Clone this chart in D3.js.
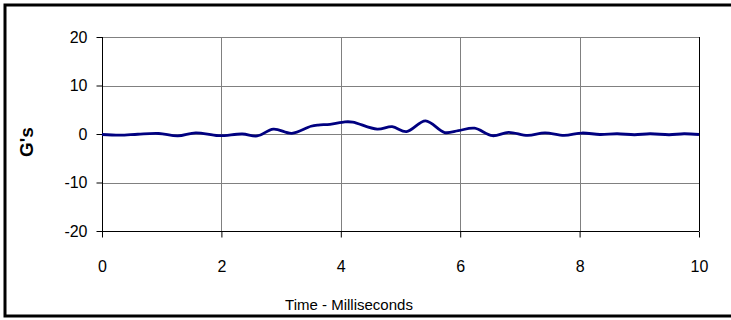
<!DOCTYPE html>
<html>
<head>
<meta charset="utf-8">
<script src="https://cdn.jsdelivr.net/npm/d3@7"></script>
<style>
  body { margin: 0; background: #fff; }
  svg text { font-family: "Liberation Sans", Arial, sans-serif; }
</style>
</head>
<body>
<div id="chart"></div>
<script>
// time (ms) and acceleration (G's)
const times = [0, 0.3, 0.6, 0.95, 1.27, 1.57, 1.95, 2.35, 2.6, 2.87, 3.18, 3.5, 3.62, 3.82, 4.07, 4.2,
  4.61, 4.86, 5.1, 5.42, 5.74, 5.97, 6.24, 6.54, 6.81, 7.13, 7.42, 7.74, 8.04, 8.34, 8.63, 8.92, 9.18, 9.5, 9.75, 10];
const gs = [-0.1, -0.25, -0.05, 0.1, -0.4, 0.25, -0.35, 0.0, -0.4, 1.0, 0.15, 1.6, 1.85, 2.0, 2.5, 2.45,
  1.0, 1.5, 0.5, 2.7, 0.3, 0.7, 1.2, -0.35, 0.35, -0.3, 0.25, -0.3, 0.2, -0.1, 0.05, -0.15, 0.05, -0.15, 0.05, -0.1];
const xTicks = [0, 2, 4, 6, 8, 10];
const yTicks = [-20, -10, 0, 10, 20];

const width = 731, height = 320;
const margin = {top: 37, right: 32, bottom: 89, left: 102};

const svg = d3.select("#chart").append("svg")
  .attr("width", width)
  .attr("height", height);

// outer frame
svg.append("rect")
  .attr("x", 5).attr("y", 5)
  .attr("width", 740).attr("height", 311)
  .attr("fill", "none")
  .attr("stroke", "#000")
  .attr("stroke-width", 3);

const x = d3.scaleLinear().domain([0, 10]).range([margin.left, width - margin.right]);
const y = d3.scaleLinear().domain([-20, 20]).range([height - margin.bottom, margin.top]);

// grid
svg.append("g")
  .attr("stroke", "#808080")
  .attr("stroke-width", 1)
  .selectAll("line.h")
  .data(yTicks)
  .join("line")
  .attr("x1", x(0)).attr("x2", x(10))
  .attr("y1", d => Math.round(y(d)) + 0.5).attr("y2", d => Math.round(y(d)) + 0.5);

svg.append("g")
  .attr("stroke", "#808080")
  .attr("stroke-width", 1)
  .selectAll("line.v")
  .data(xTicks)
  .join("line")
  .attr("x1", d => Math.round(x(d)) + 0.5).attr("x2", d => Math.round(x(d)) + 0.5)
  .attr("y1", y(20)).attr("y2", y(-20));

// right edge of plot
svg.append("line")
  .attr("x1", Math.round(x(10)) + 0.5).attr("x2", Math.round(x(10)) + 0.5)
  .attr("y1", y(20)).attr("y2", y(-20))
  .attr("stroke", "#000");

// axes
const fmt = d => String(d);
const xAxis = svg.append("g")
  .attr("transform", `translate(0,${Math.round(y(-20)) + 0.5})`)
  .call(d3.axisBottom(x).tickValues(xTicks).tickSize(6).tickPadding(23).tickFormat(fmt));

const yAxis = svg.append("g")
  .attr("transform", `translate(${Math.round(x(0)) + 0.5},0)`)
  .call(d3.axisLeft(y).tickValues(yTicks).tickSize(6).tickPadding(9).tickFormat(fmt));

[xAxis, yAxis].forEach(g => {
  g.select(".domain").remove();
  g.selectAll(".tick line").attr("stroke", "#000");
  g.selectAll("text")
    .attr("fill", "#000")
    .style("font-size", "16px")
    .style("font-family", "'Liberation Sans', Arial, sans-serif");
});
xAxis.append("line").attr("x1", x(0)).attr("x2", x(10)).attr("stroke", "#000");
yAxis.append("line").attr("y1", y(20)).attr("y2", y(-20)).attr("stroke", "#000");

// trace
const line = d3.line()
  .x((d, i) => x(times[i]))
  .y(d => y(d))
  .curve(d3.curveCatmullRom.alpha(0.5));

svg.append("path")
  .datum(gs)
  .attr("fill", "none")
  .attr("stroke", "#000080")
  .attr("stroke-width", 2.8)
  .attr("stroke-linejoin", "round")
  .attr("d", line);

// axis titles
svg.append("text")
  .attr("x", 349)
  .attr("y", 310)
  .attr("text-anchor", "middle")
  .style("font-size", "15px")
  .text("Time - Milliseconds");

svg.append("text")
  .attr("transform", `translate(33,142) rotate(-90)`)
  .attr("text-anchor", "middle")
  .style("font-size", "19px")
  .style("font-weight", "bold")
  .text("G's");
</script>
</body>
</html>
